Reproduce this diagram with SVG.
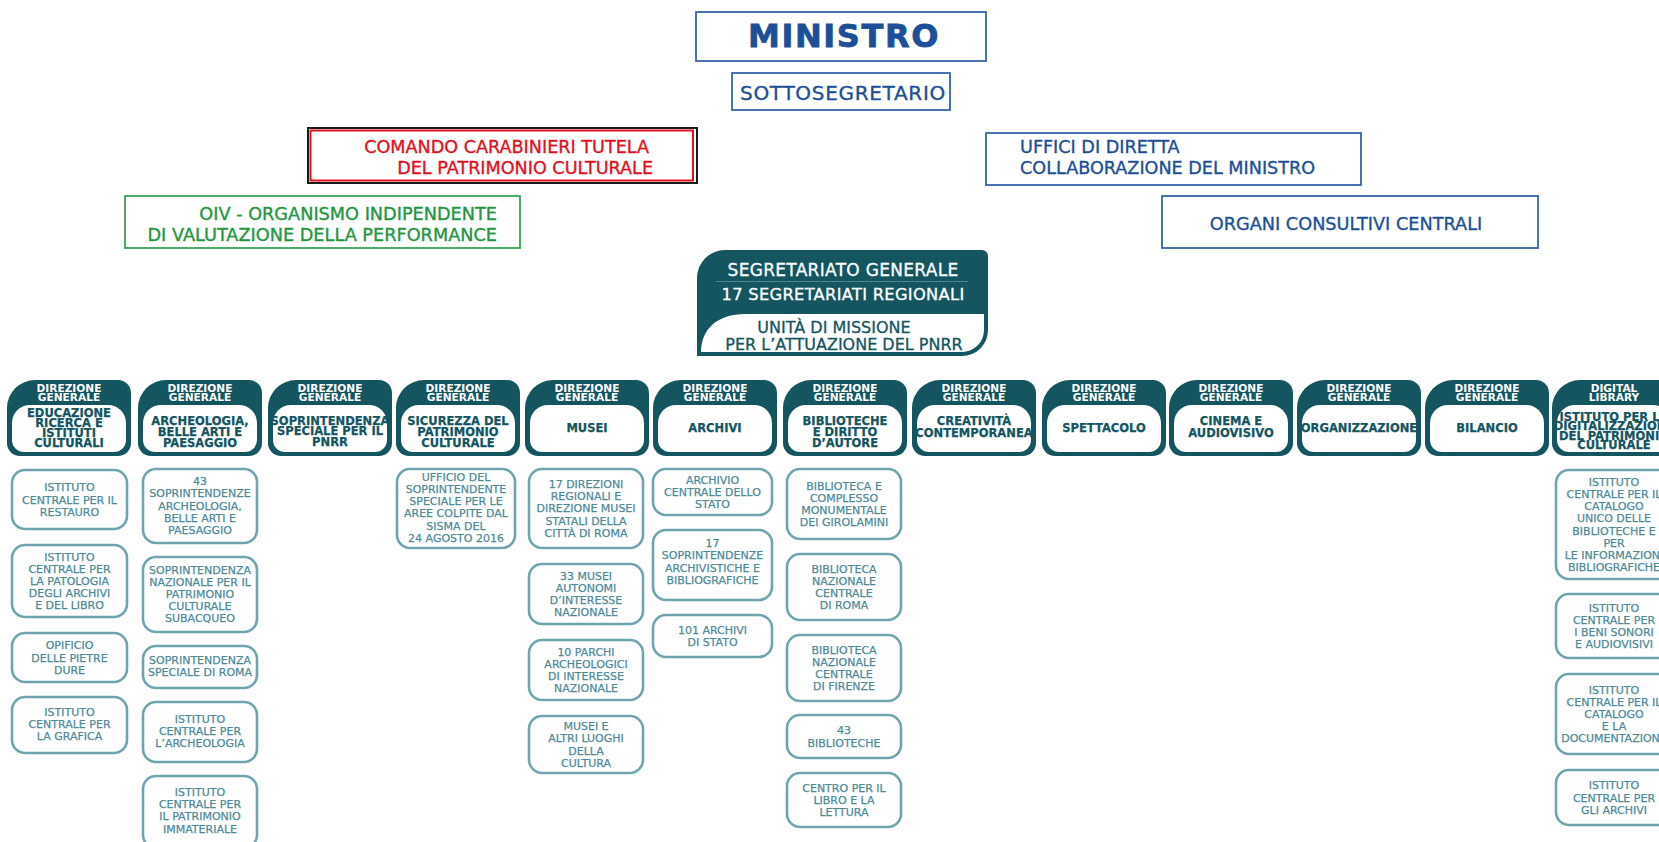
<svg xmlns="http://www.w3.org/2000/svg" xmlns:xlink="http://www.w3.org/1999/xlink" width="1659" height="842" viewBox="0 0 1659 842">
<style>
text{font-family:"DejaVu Sans","Liberation Sans",sans-serif}
.blue{fill:#1d4f98;stroke:#1d4f98}
.tt{stroke-width:0.35}
.bbox{fill:#fff;stroke:#3566aa;stroke-width:1.8}
.dg{fill:#14555f}
.dgw{fill:#fff}
.hd{fill:#fff;font-size:10.6px;font-weight:bold;text-anchor:middle}
.lb{fill:#14555f;stroke:#14555f;stroke-width:0.25;font-size:11.5px;font-weight:bold;text-anchor:middle}
.sb{fill:#fff;stroke:#6ea5af;stroke-width:2.6}
.st{fill:#4e8a96;stroke:#4e8a96;stroke-width:0.25;font-size:11px;text-anchor:middle}
</style>
<defs>
<path id="dgOuter" d="M0,443 V408 A28,28 0 0 1 28,380 H111 A13,13 0 0 1 124,393 V443 A13,13 0 0 1 111,456 H13 A13,13 0 0 1 0,443 Z"/>
<path id="dgInner" d="M5,440 V423 A18,18 0 0 1 23,405 H101 A18,18 0 0 1 119,423 V440 A12,12 0 0 1 107,452 H17 A12,12 0 0 1 5,440 Z"/>
</defs>
<rect width="1659" height="842" fill="#fff"/>
<g id="connectors"/>

<g id="ministro">
<rect class="bbox" x="696" y="12" width="290" height="49"/>
<text class="blue" x="844" y="47" font-size="32" font-weight="bold" letter-spacing="1.6" stroke-width="0.8" text-anchor="middle">MINISTRO</text>
</g>
<g id="sottosegretario">
<rect class="bbox" x="732" y="73" width="218" height="37"/>
<text class="blue tt" x="843" y="100" font-size="20" letter-spacing="0.7" text-anchor="middle">SOTTOSEGRETARIO</text>
</g>
<g id="carabinieri">
<rect x="308" y="128" width="389" height="55" fill="#fff" stroke="#1a1a1a" stroke-width="2"/>
<rect x="310.5" y="130.5" width="382.5" height="50" fill="none" stroke="#e3101e" stroke-width="2"/>
<text fill="#e3101e" stroke="#e3101e" stroke-width="0.35" font-size="17.6" text-anchor="end"><tspan x="649" y="153">COMANDO CARABINIERI TUTELA</tspan><tspan x="653" y="174">DEL PATRIMONIO CULTURALE</tspan></text>
</g>
<g id="uffici">
<rect class="bbox" x="986" y="133" width="375" height="52"/>
<text class="blue tt" font-size="17.6"><tspan x="1020" y="153">UFFICI DI DIRETTA</tspan><tspan x="1020" y="174">COLLABORAZIONE DEL MINISTRO</tspan></text>
</g>
<g id="oiv">
<rect x="125" y="196" width="395" height="52" fill="#fff" stroke="#3aa457" stroke-width="1.8"/>
<text fill="#23963f" stroke="#23963f" stroke-width="0.35" font-size="17.7" text-anchor="end"><tspan x="497" y="220">OIV - ORGANISMO INDIPENDENTE</tspan><tspan x="497" y="241">DI VALUTAZIONE DELLA PERFORMANCE</tspan></text>
</g>
<g id="organi">
<rect class="bbox" x="1162" y="196" width="376" height="52"/>
<text class="blue tt" x="1346" y="230" font-size="17.7" text-anchor="middle">ORGANI CONSULTIVI CENTRALI</text>
</g>
<g id="segretariato">
<path class="dg" d="M697,356 V278 A28,28 0 0 1 725,250 H982 A6,6 0 0 1 988,256 V330 A26,26 0 0 1 962,356 Z"/>
<path fill="#fff" d="M701,352 C701,330 716,314 746,314 H984 V330 A22,22 0 0 1 962,352 Z"/>
<line x1="716" y1="281.5" x2="968" y2="281.5" stroke="#4d8791" stroke-width="1"/>
<text fill="#fff" stroke="#fff" stroke-width="0.3" font-size="17" letter-spacing="0.3" text-anchor="middle"><tspan x="843" y="276">SEGRETARIATO GENERALE</tspan><tspan x="843" y="299.5" font-size="16.3">17 SEGRETARIATI REGIONALI</tspan></text>
<text fill="#14555f" stroke="#14555f" stroke-width="0.3" font-size="16" text-anchor="middle"><tspan x="834" y="333">UNITÀ DI MISSIONE</tspan><tspan x="844" y="350">PER L’ATTUAZIONE DEL PNRR</tspan></text>
</g>

<g id="dg-educazione">
<use href="#dgOuter" x="7" class="dg"/><use href="#dgInner" x="7" class="dgw"/>
<text class="hd"><tspan x="69" y="392">DIREZIONE</tspan><tspan x="69" y="401">GENERALE</tspan></text>
<text class="lb" font-size="11.3"><tspan x="69" y="417">EDUCAZIONE</tspan><tspan x="69" y="427">RICERCA E</tspan><tspan x="69" y="437">ISTITUTI</tspan><tspan x="69" y="447">CULTURALI</tspan></text>
</g>
<g id="dg-archeologia">
<use href="#dgOuter" x="138" class="dg"/><use href="#dgInner" x="138" class="dgw"/>
<text class="hd"><tspan x="200" y="392">DIREZIONE</tspan><tspan x="200" y="401">GENERALE</tspan></text>
<text class="lb"><tspan x="200" y="425">ARCHEOLOGIA,</tspan><tspan x="200" y="435.8">BELLE ARTI E</tspan><tspan x="200" y="446.6">PAESAGGIO</tspan></text>
</g>
<g id="dg-pnrr">
<use href="#dgOuter" x="268" class="dg"/><use href="#dgInner" x="268" class="dgw"/>
<text class="hd"><tspan x="330" y="392">DIREZIONE</tspan><tspan x="330" y="401">GENERALE</tspan></text>
<text class="lb" font-size="10.8"><tspan x="330" y="424.5">SOPRINTENDENZA</tspan><tspan x="330" y="435">SPECIALE PER IL</tspan><tspan x="330" y="445.5">PNRR</tspan></text>
</g>
<g id="dg-sicurezza">
<use href="#dgOuter" x="396" class="dg"/><use href="#dgInner" x="396" class="dgw"/>
<text class="hd"><tspan x="458" y="392">DIREZIONE</tspan><tspan x="458" y="401">GENERALE</tspan></text>
<text class="lb"><tspan x="458" y="425">SICUREZZA DEL</tspan><tspan x="458" y="435.8">PATRIMONIO</tspan><tspan x="458" y="446.6">CULTURALE</tspan></text>
</g>
<g id="dg-musei">
<use href="#dgOuter" x="525" class="dg"/><use href="#dgInner" x="525" class="dgw"/>
<text class="hd"><tspan x="587" y="392">DIREZIONE</tspan><tspan x="587" y="401">GENERALE</tspan></text>
<text class="lb" x="587" y="432">MUSEI</text>
</g>
<g id="dg-archivi">
<use href="#dgOuter" x="653" class="dg"/><use href="#dgInner" x="653" class="dgw"/>
<text class="hd"><tspan x="715" y="392">DIREZIONE</tspan><tspan x="715" y="401">GENERALE</tspan></text>
<text class="lb" x="715" y="432">ARCHIVI</text>
</g>
<g id="dg-biblioteche">
<use href="#dgOuter" x="783" class="dg"/><use href="#dgInner" x="783" class="dgw"/>
<text class="hd"><tspan x="845" y="392">DIREZIONE</tspan><tspan x="845" y="401">GENERALE</tspan></text>
<text class="lb"><tspan x="845" y="425">BIBLIOTECHE</tspan><tspan x="845" y="435.8">E DIRITTO</tspan><tspan x="845" y="446.6">D’AUTORE</tspan></text>
</g>
<g id="dg-creativita">
<use href="#dgOuter" x="912" class="dg"/><use href="#dgInner" x="912" class="dgw"/>
<text class="hd"><tspan x="974" y="392">DIREZIONE</tspan><tspan x="974" y="401">GENERALE</tspan></text>
<text class="lb" font-size="10.9"><tspan x="974" y="425">CREATIVITÀ</tspan><tspan x="974" y="436.5">CONTEMPORANEA</tspan></text>
</g>
<g id="dg-spettacolo">
<use href="#dgOuter" x="1042" class="dg"/><use href="#dgInner" x="1042" class="dgw"/>
<text class="hd"><tspan x="1104" y="392">DIREZIONE</tspan><tspan x="1104" y="401">GENERALE</tspan></text>
<text class="lb" x="1104" y="432">SPETTACOLO</text>
</g>
<g id="dg-cinema">
<use href="#dgOuter" x="1169" class="dg"/><use href="#dgInner" x="1169" class="dgw"/>
<text class="hd"><tspan x="1231" y="392">DIREZIONE</tspan><tspan x="1231" y="401">GENERALE</tspan></text>
<text class="lb"><tspan x="1231" y="424.5">CINEMA E</tspan><tspan x="1231" y="436.5">AUDIOVISIVO</tspan></text>
</g>
<g id="dg-organizzazione">
<use href="#dgOuter" x="1297" class="dg"/><use href="#dgInner" x="1297" class="dgw"/>
<text class="hd"><tspan x="1359" y="392">DIREZIONE</tspan><tspan x="1359" y="401">GENERALE</tspan></text>
<text class="lb" x="1359" y="432" font-size="10.9">ORGANIZZAZIONE</text>
</g>
<g id="dg-bilancio">
<use href="#dgOuter" x="1425" class="dg"/><use href="#dgInner" x="1425" class="dgw"/>
<text class="hd"><tspan x="1487" y="392">DIREZIONE</tspan><tspan x="1487" y="401">GENERALE</tspan></text>
<text class="lb" x="1487" y="432">BILANCIO</text>
</g>
<g id="digital-library">
<use href="#dgOuter" x="1552" class="dg"/><use href="#dgInner" x="1552" class="dgw"/>
<text class="hd"><tspan x="1614" y="392">DIGITAL</tspan><tspan x="1614" y="401">LIBRARY</tspan></text>
<text class="lb" font-size="9.8"><tspan x="1614" y="420.5">ISTITUTO PER LA</tspan><tspan x="1614" y="430">DIGITALIZZAZIONE</tspan><tspan x="1614" y="439.5">DEL PATRIMONIO</tspan><tspan x="1614" y="449">CULTURALE</tspan></text>
</g>

<g id="ist-restauro"><rect class="sb" x="12" y="470" width="115" height="59" rx="13"/>
<text class="st"><tspan x="69.5" y="491.3">ISTITUTO</tspan><tspan x="69.5" y="503.5">CENTRALE PER IL</tspan><tspan x="69.5" y="515.7">RESTAURO</tspan></text></g>
<g id="ist-patologia"><rect class="sb" x="12" y="545" width="115" height="72" rx="13"/>
<text class="st"><tspan x="69.5" y="560.6">ISTITUTO</tspan><tspan x="69.5" y="572.8">CENTRALE PER</tspan><tspan x="69.5" y="585">LA PATOLOGIA</tspan><tspan x="69.5" y="597.2">DEGLI ARCHIVI</tspan><tspan x="69.5" y="609.4">E DEL LIBRO</tspan></text></g>
<g id="opificio"><rect class="sb" x="12" y="633" width="115" height="49" rx="13"/>
<text class="st"><tspan x="69.5" y="649.3">OPIFICIO</tspan><tspan x="69.5" y="661.5">DELLE PIETRE</tspan><tspan x="69.5" y="673.7">DURE</tspan></text></g>
<g id="ist-grafica"><rect class="sb" x="12" y="697" width="115" height="56" rx="13"/>
<text class="st"><tspan x="69.5" y="715.8">ISTITUTO</tspan><tspan x="69.5" y="728">CENTRALE PER</tspan><tspan x="69.5" y="740.2">LA GRAFICA</tspan></text></g>

<g id="sopr-abap"><rect class="sb" x="143" y="469" width="114" height="74" rx="13"/>
<text class="st"><tspan x="200" y="485.1">43</tspan><tspan x="200" y="497.3">SOPRINTENDENZE</tspan><tspan x="200" y="509.5">ARCHEOLOGIA,</tspan><tspan x="200" y="521.7">BELLE ARTI E</tspan><tspan x="200" y="533.9">PAESAGGIO</tspan></text></g>
<g id="sopr-subacqueo"><rect class="sb" x="143" y="557" width="114" height="75" rx="13"/>
<text class="st"><tspan x="200" y="573.6">SOPRINTENDENZA</tspan><tspan x="200" y="585.8">NAZIONALE PER IL</tspan><tspan x="200" y="598">PATRIMONIO</tspan><tspan x="200" y="610.2">CULTURALE</tspan><tspan x="200" y="622.4">SUBACQUEO</tspan></text></g>
<g id="sopr-roma"><rect class="sb" x="143" y="646" width="114" height="42" rx="13"/>
<text class="st"><tspan x="200" y="663.5">SOPRINTENDENZA</tspan><tspan x="200" y="675.7">SPECIALE DI ROMA</tspan></text></g>
<g id="ist-archeologia"><rect class="sb" x="143" y="702" width="114" height="60" rx="13"/>
<text class="st"><tspan x="200" y="722.8">ISTITUTO</tspan><tspan x="200" y="735">CENTRALE PER</tspan><tspan x="200" y="747.2">L’ARCHEOLOGIA</tspan></text></g>
<g id="ist-immateriale"><rect class="sb" x="143" y="776" width="114" height="72" rx="13"/>
<text class="st"><tspan x="200" y="796">ISTITUTO</tspan><tspan x="200" y="808.2">CENTRALE PER</tspan><tspan x="200" y="820.4">IL PATRIMONIO</tspan><tspan x="200" y="832.6">IMMATERIALE</tspan></text></g>

<g id="ufficio-sisma"><rect class="sb" x="397" y="469" width="118" height="79" rx="13"/>
<text class="st"><tspan x="456" y="480.8">UFFICIO DEL</tspan><tspan x="456" y="493">SOPRINTENDENTE</tspan><tspan x="456" y="505.2">SPECIALE PER LE</tspan><tspan x="456" y="517.4">AREE COLPITE DAL</tspan><tspan x="456" y="529.6">SISMA DEL</tspan><tspan x="456" y="541.8">24 AGOSTO 2016</tspan></text></g>

<g id="direzioni-regionali"><rect class="sb" x="529" y="469" width="114" height="79" rx="13"/>
<text class="st"><tspan x="586" y="488">17 DIREZIONI</tspan><tspan x="586" y="500.2">REGIONALI E</tspan><tspan x="586" y="512.4">DIREZIONE MUSEI</tspan><tspan x="586" y="524.6">STATALI DELLA</tspan><tspan x="586" y="536.8">CITTÀ DI ROMA</tspan></text></g>
<g id="musei-autonomi"><rect class="sb" x="529" y="564" width="114" height="60" rx="13"/>
<text class="st"><tspan x="586" y="579.7">33 MUSEI</tspan><tspan x="586" y="591.9">AUTONOMI</tspan><tspan x="586" y="604.1">D’INTERESSE</tspan><tspan x="586" y="616.3">NAZIONALE</tspan></text></g>
<g id="parchi"><rect class="sb" x="529" y="640" width="114" height="60" rx="13"/>
<text class="st"><tspan x="586" y="655.7">10 PARCHI</tspan><tspan x="586" y="667.9">ARCHEOLOGICI</tspan><tspan x="586" y="680.1">DI INTERESSE</tspan><tspan x="586" y="692.3">NAZIONALE</tspan></text></g>
<g id="musei-luoghi"><rect class="sb" x="529" y="716" width="114" height="57" rx="13"/>
<text class="st"><tspan x="586" y="730.2">MUSEI E</tspan><tspan x="586" y="742.4">ALTRI LUOGHI</tspan><tspan x="586" y="754.6">DELLA</tspan><tspan x="586" y="766.8">CULTURA</tspan></text></g>

<g id="archivio-centrale"><rect class="sb" x="653" y="469" width="119" height="46" rx="13"/>
<text class="st"><tspan x="712.5" y="483.8">ARCHIVIO</tspan><tspan x="712.5" y="496">CENTRALE DELLO</tspan><tspan x="712.5" y="508.2">STATO</tspan></text></g>
<g id="sopr-archivistiche"><rect class="sb" x="653" y="530" width="119" height="70" rx="13"/>
<text class="st"><tspan x="712.5" y="547">17</tspan><tspan x="712.5" y="559.3">SOPRINTENDENZE</tspan><tspan x="712.5" y="571.6">ARCHIVISTICHE E</tspan><tspan x="712.5" y="583.9">BIBLIOGRAFICHE</tspan></text></g>
<g id="archivi-stato"><rect class="sb" x="653" y="615" width="119" height="42" rx="13"/>
<text class="st"><tspan x="712.5" y="633.5">101 ARCHIVI</tspan><tspan x="712.5" y="645.7">DI STATO</tspan></text></g>

<g id="girolamini"><rect class="sb" x="787" y="469" width="114" height="70" rx="13"/>
<text class="st"><tspan x="844" y="489.7">BIBLIOTECA E</tspan><tspan x="844" y="501.9">COMPLESSO</tspan><tspan x="844" y="514.1">MONUMENTALE</tspan><tspan x="844" y="526.3">DEI GIROLAMINI</tspan></text></g>
<g id="bnc-roma"><rect class="sb" x="787" y="554" width="114" height="66" rx="13"/>
<text class="st"><tspan x="844" y="572.7">BIBLIOTECA</tspan><tspan x="844" y="584.9">NAZIONALE</tspan><tspan x="844" y="597.1">CENTRALE</tspan><tspan x="844" y="609.3">DI ROMA</tspan></text></g>
<g id="bnc-firenze"><rect class="sb" x="787" y="635" width="114" height="66" rx="13"/>
<text class="st"><tspan x="844" y="653.7">BIBLIOTECA</tspan><tspan x="844" y="665.9">NAZIONALE</tspan><tspan x="844" y="678.1">CENTRALE</tspan><tspan x="844" y="690.3">DI FIRENZE</tspan></text></g>
<g id="biblioteche-43"><rect class="sb" x="787" y="715" width="114" height="43" rx="13"/>
<text class="st"><tspan x="844" y="734.4">43</tspan><tspan x="844" y="746.6">BIBLIOTECHE</tspan></text></g>
<g id="centro-libro"><rect class="sb" x="787" y="773" width="114" height="54" rx="13"/>
<text class="st"><tspan x="844" y="791.8">CENTRO PER IL</tspan><tspan x="844" y="804">LIBRO E LA</tspan><tspan x="844" y="816.2">LETTURA</tspan></text></g>

<g id="iccu"><rect class="sb" x="1556" y="470" width="116" height="109" rx="13"/>
<text class="st"><tspan x="1614" y="485.8">ISTITUTO</tspan><tspan x="1614" y="498">CENTRALE PER IL</tspan><tspan x="1614" y="510.2">CATALOGO</tspan><tspan x="1614" y="522.4">UNICO DELLE</tspan><tspan x="1614" y="534.6">BIBLIOTECHE E</tspan><tspan x="1614" y="546.8">PER</tspan><tspan x="1614" y="559">LE INFORMAZIONI</tspan><tspan x="1614" y="571.2">BIBLIOGRAFICHE</tspan></text></g>
<g id="icbsa"><rect class="sb" x="1556" y="594" width="116" height="64" rx="13"/>
<text class="st"><tspan x="1614" y="611.7">ISTITUTO</tspan><tspan x="1614" y="623.9">CENTRALE PER</tspan><tspan x="1614" y="636.1">I BENI SONORI</tspan><tspan x="1614" y="648.3">E AUDIOVISIVI</tspan></text></g>
<g id="iccd"><rect class="sb" x="1556" y="674" width="116" height="80" rx="13"/>
<text class="st"><tspan x="1614" y="693.6">ISTITUTO</tspan><tspan x="1614" y="705.8">CENTRALE PER IL</tspan><tspan x="1614" y="718">CATALOGO</tspan><tspan x="1614" y="730.2">E LA</tspan><tspan x="1614" y="742.4">DOCUMENTAZIONE</tspan></text></g>
<g id="ica"><rect class="sb" x="1556" y="770" width="116" height="55" rx="13"/>
<text class="st"><tspan x="1614" y="789.3">ISTITUTO</tspan><tspan x="1614" y="801.5">CENTRALE PER</tspan><tspan x="1614" y="813.7">GLI ARCHIVI</tspan></text></g>
</svg>
